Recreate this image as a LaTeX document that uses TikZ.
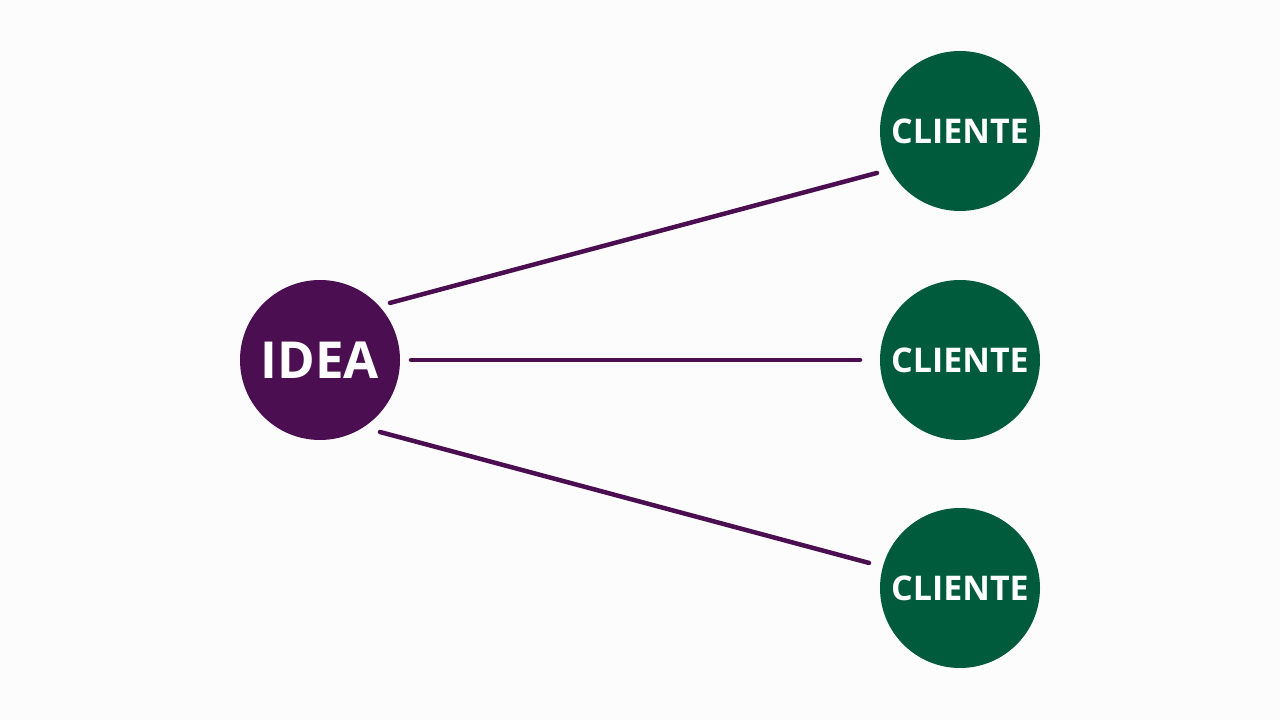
\documentclass[tikz,border=0pt]{standalone}
\usepackage{fontspec}
\setmainfont{Open Sans}
\usetikzlibrary{calc}
\definecolor{bgc}{HTML}{FCFCFC}
\definecolor{ideac}{HTML}{4B0E50}
\definecolor{clic}{HTML}{005A3C}
\tikzset{
  ideanode/.style={circle,fill=ideac,minimum size=160pt,inner sep=0pt,text=white,font=\fontsize{51}{51}\selectfont\bfseries},
  clinode/.style={circle,fill=clic,minimum size=160pt,inner sep=0pt,text=white,font=\fontsize{34}{34}\selectfont\bfseries},
  link/.style={draw=ideac,line width=4.5pt,line cap=round}
}
\begin{document}
\begin{tikzpicture}[x=1pt,y=1pt]
\fill[bgc] (0,0) rectangle (1280,720);
\useasboundingbox (0,0) rectangle (1280,720);
\node[ideanode] (idea) at (320,360) {IDEA};
\node[clinode] (c1) at (960,589) {CLIENTE};
\node[clinode] (c2) at (960,360) {CLIENTE};
\node[clinode] (c3) at (960,132) {CLIENTE};
\coordinate (a1) at ($(idea.center)+(39.2:90.3)$);
\coordinate (b1) at ($(c1.center)+(206.8:93)$);
\coordinate (a2) at ($(idea.center)+(0:91)$);
\coordinate (b2) at ($(c2.center)+(180:100)$);
\coordinate (a3) at ($(idea.center)+(-50.2:93.7)$);
\coordinate (b3) at ($(c3.center)+(164.6:94.4)$);
\draw[link] (a1) -- (b1);
\draw[link] (a2) -- (b2);
\draw[link] (a3) -- (b3);
\end{tikzpicture}
\end{document}
